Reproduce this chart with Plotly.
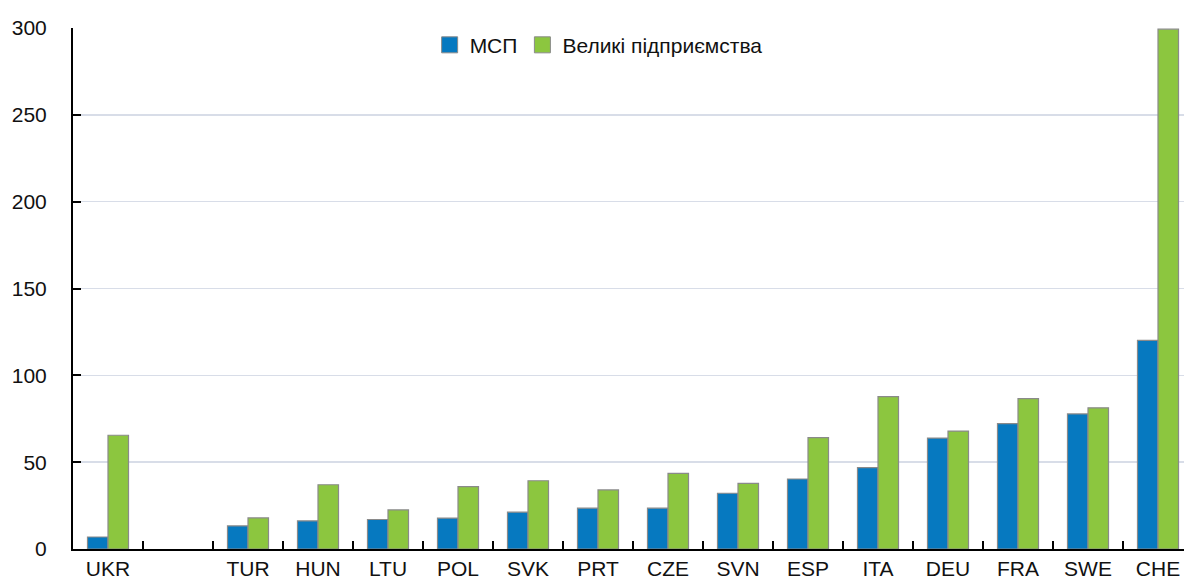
import plotly.graph_objects as go

categories = ["UKR", " ", "TUR", "HUN", "LTU", "POL", "SVK", "PRT", "CZE",
              "SVN", "ESP", "ITA", "DEU", "FRA", "SWE", "CHE"]
sme = [6.9, None, 13.3, 16.2, 17.0, 17.8, 21.2, 23.5, 23.5,
       32.1, 40.3, 46.9, 63.9, 72.2, 77.8, 120.1]
large = [65.5, None, 17.9, 37.0, 22.5, 35.9, 39.3, 34.0, 43.5,
         37.8, 64.1, 87.7, 67.9, 86.6, 81.3, 299.3]
series_names = ["МСП", "Великі підприємства"]
colors = ["#0679c0", "#8cc63f"]
y_ticks = [0, 50, 100, 150, 200, 250, 300]

FONT = "Liberation Sans, Arial, sans-serif"
FS = 21

fig = go.Figure()
for name, vals, col in zip(series_names, [sme, large], colors):
    fig.add_trace(go.Bar(
        x=categories, y=vals, name=name, showlegend=False,
        marker=dict(color=col, line=dict(color="#8a8a8a", width=1.2)),
    ))
    # legend proxy with larger square symbol
    fig.add_trace(go.Scatter(
        x=[None], y=[None], mode="markers", name=name,
        marker=dict(symbol="square", size=16, color=col,
                    line=dict(color="#8a8a8a", width=1)),
    ))

W, H = 1184, 585
ml, mr, mt, mb = 73, 0, 28, 36
pw = W - ml - mr
cat_px = 70.0
x_max = -0.5 + pw / cat_px

fig.update_layout(
    width=W, height=H,
    margin=dict(l=ml, r=mr, t=mt, b=mb, pad=0),
    paper_bgcolor="white", plot_bgcolor="white",
    barmode="group", bargap=0.414, bargroupgap=0,
    font=dict(family=FONT, size=FS, color="#111111"),
    showlegend=True,
    legend=dict(orientation="h", x=0.321, xanchor="left",
                y=0.967, yanchor="middle",
                bgcolor="rgba(0,0,0,0)", font=dict(size=FS),
                itemwidth=30, tracegroupgap=0),
    xaxis=dict(
        type="category", categoryorder="array", categoryarray=categories,
        range=[-0.5, x_max], tickson="boundaries",
        ticks="inside", ticklen=8, tickwidth=2, tickcolor="black",
        showline=True, linecolor="black", linewidth=2,
        showgrid=False, zeroline=False, fixedrange=True,
        tickfont=dict(size=FS),
    ),
    yaxis=dict(
        range=[0, 300], tickvals=y_ticks,
        ticks="inside", ticklen=8, tickwidth=2, tickcolor="black",
        showline=True, linecolor="black", linewidth=2,
        showgrid=True, gridcolor="#d8dde8", gridwidth=1.5,
        zeroline=False, ticklabelstandoff=20, fixedrange=True,
        tickfont=dict(size=FS),
    ),
)

fig.write_html(
    "out.html",
    config={"displayModeBar": False, "staticPlot": True},
    post_script="document.body.style.margin='0';document.body.style.overflow='hidden';",
)
